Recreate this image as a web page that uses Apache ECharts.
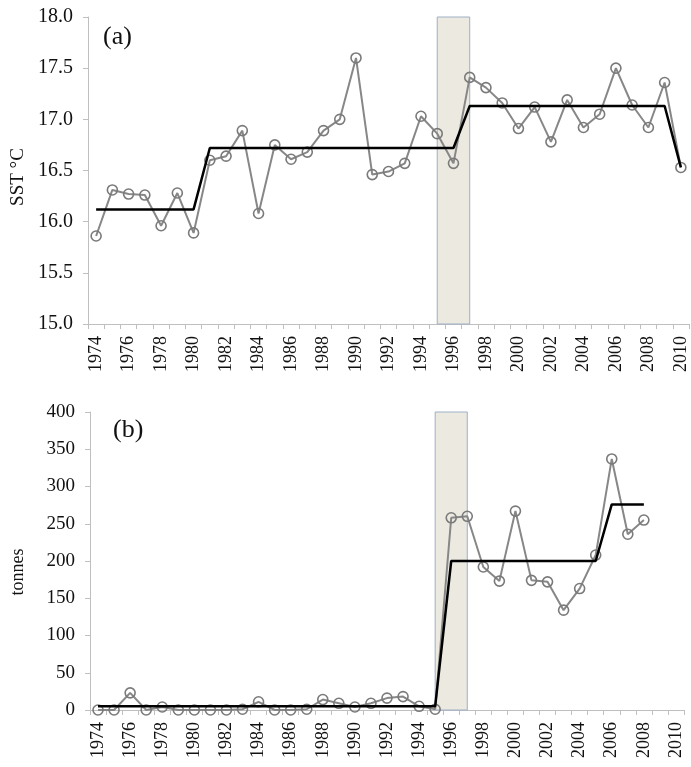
<!DOCTYPE html>
<html>
<head>
<meta charset="utf-8">
<script src="https://cdn.jsdelivr.net/npm/echarts@6/dist/echarts.min.js"></script>
<style>
html,body{margin:0;padding:0;background:#fff;}
#chart{width:691px;height:767px;}
</style>
</head>
<body>
<div id="chart"></div>
<script>
var years = ['1974','1975','1976','1977','1978','1979','1980','1981','1982','1983',
  '1984','1985','1986','1987','1988','1989','1990','1991','1992','1993',
  '1994','1995','1996','1997','1998','1999','2000','2001','2002','2003',
  '2004','2005','2006','2007','2008','2009','2010'];

var sstValues = [15.86,16.31,16.27,16.26,15.96,16.28,15.89,16.60,16.64,16.89,
  16.08,16.75,16.61,16.68,16.89,17.00,17.60,16.46,16.49,16.57,
  17.03,16.86,16.57,17.41,17.31,17.16,16.91,17.12,16.78,17.19,
  16.92,17.05,17.50,17.14,16.92,17.36,16.53];

var sstRegime = [16.12,16.12,16.12,16.12,16.12,16.12,16.12,
  16.72,16.72,16.72,16.72,16.72,16.72,16.72,16.72,16.72,16.72,16.72,16.72,16.72,16.72,16.72,16.72,
  17.13,17.13,17.13,17.13,17.13,17.13,17.13,17.13,17.13,17.13,17.13,17.13,17.13,
  16.53];

var catchValues = [0,0,23,0,4,0,0,0,0,1,
  11,0,0,1,14,9,4,9,16,18,
  5,1,258,260,192,173,267,174,172,134,
  163,208,337,236,255,null,null];

var catchRegime = [5,5,5,5,5,5,5,5,5,5,5,5,5,5,5,5,5,5,5,5,5,5,
  200,200,200,200,200,200,200,200,200,200,
  276,276,276,null,null];

var shadeStart = '1995', shadeEnd = '1997';

var FONT = "'Liberation Serif','Times New Roman',serif";
var AXIS_GRAY = '#BFBFBF';
var LINE_GRAY = '#878787';

function xAxisCfg(gridIndex){
  return {
    type:'category', gridIndex:gridIndex, data:years, boundaryGap:true,
    axisLine:{show:true, lineStyle:{color:AXIS_GRAY, width:1}},
    axisTick:{show:true, interval:0, length:5, lineStyle:{color:AXIS_GRAY}},
    axisLabel:{interval:1, rotate:90, fontSize:18, fontFamily:FONT, color:'#111', margin:12},
    splitLine:{show:false}
  };
}

var chart = echarts.init(document.getElementById('chart'), null, {renderer:'canvas'});
chart.setOption({
  animation:false,
  backgroundColor:'#fff',
  title:[
    {text:'(a)', left:98, top:19, textStyle:{fontFamily:FONT, fontSize:26, fontWeight:'normal', color:'#111'}},
    {text:'(b)', left:108, top:412, textStyle:{fontFamily:FONT, fontSize:26, fontWeight:'normal', color:'#111'}}
  ],
  grid:[
    {left:88, top:17, width:601, height:307},
    {left:90, top:412, width:594, height:298}
  ],
  xAxis:[xAxisCfg(0), xAxisCfg(1)],
  yAxis:[
    {type:'value', gridIndex:0, min:15, max:18, interval:0.5,
     name:'SST °C', nameLocation:'middle', nameRotate:90, nameGap:59,
     nameTextStyle:{fontFamily:FONT, fontSize:19, color:'#111', padding:[0,13,0,0]},
     axisLine:{show:true, lineStyle:{color:AXIS_GRAY}},
     axisTick:{show:true, length:5, lineStyle:{color:AXIS_GRAY}},
     axisLabel:{fontSize:20, fontFamily:FONT, color:'#111', margin:15, formatter:function(v){return v.toFixed(1);}},
     splitLine:{show:false}},
    {type:'value', gridIndex:1, min:0, max:400, interval:50,
     name:'tonnes', nameLocation:'middle', nameRotate:90, nameGap:63,
     nameTextStyle:{fontFamily:FONT, fontSize:18, color:'#111', padding:[0,22,0,0]},
     axisLine:{show:true, lineStyle:{color:AXIS_GRAY}},
     axisTick:{show:true, length:5, lineStyle:{color:AXIS_GRAY}},
     axisLabel:{fontSize:19, fontFamily:FONT, color:'#111', margin:15},
     splitLine:{show:false}}
  ],
  series:[
    {type:'line', xAxisIndex:0, yAxisIndex:0, data:sstValues, z:2,
     symbol:'circle', symbolSize:10,
     lineStyle:{color:LINE_GRAY, width:2},
     itemStyle:{color:'rgba(255,255,255,0)', borderColor:'#7a7a7a', borderWidth:1.6},
     markArea:{silent:true, z:1,
       itemStyle:{color:'#EBE9E0', borderColor:'#9EAFC7', borderWidth:1},
       data:[[{xAxis:shadeStart, yAxis:18},{xAxis:shadeEnd, yAxis:15}]]}},
    {type:'line', xAxisIndex:0, yAxisIndex:0, data:sstRegime, z:3,
     symbol:'none', lineStyle:{color:'#000', width:2.5}},
    {type:'line', xAxisIndex:1, yAxisIndex:1, data:catchValues, z:2,
     symbol:'circle', symbolSize:10,
     lineStyle:{color:LINE_GRAY, width:2},
     itemStyle:{color:'rgba(255,255,255,0)', borderColor:'#7a7a7a', borderWidth:1.6},
     markArea:{silent:true, z:1,
       itemStyle:{color:'#EBE9E0', borderColor:'#9EAFC7', borderWidth:1},
       data:[[{xAxis:shadeStart, yAxis:400},{xAxis:shadeEnd, yAxis:0}]]}},
    {type:'line', xAxisIndex:1, yAxisIndex:1, data:catchRegime, z:3,
     symbol:'none', lineStyle:{color:'#000', width:2.5}}
  ]
});
</script>
</body>
</html>
